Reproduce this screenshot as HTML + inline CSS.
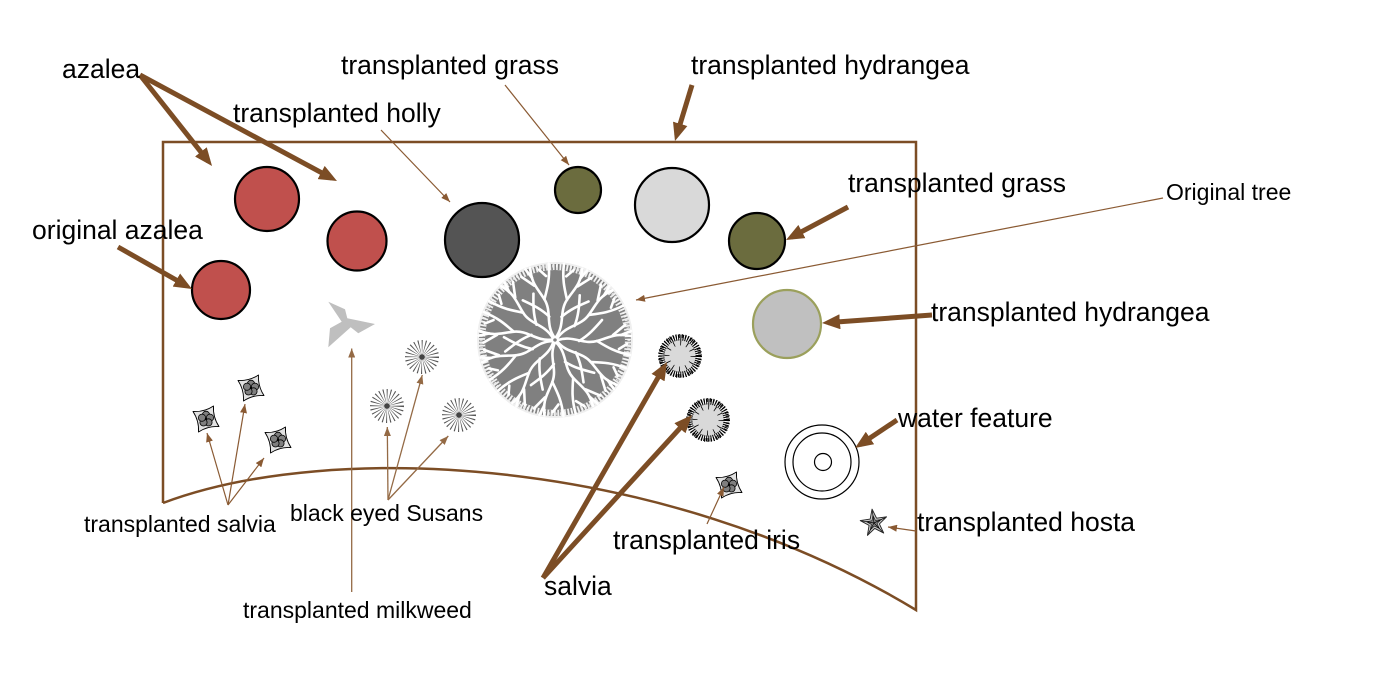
<!DOCTYPE html>
<html>
<head>
<meta charset="utf-8">
<style>
html,body{margin:0;padding:0;background:#fff;width:1396px;height:695px;overflow:hidden;}
svg{display:block;}
text{font-family:"Liberation Sans",Arial,sans-serif;fill:#000;}
</style>
</head>
<body>
<svg width="1396" height="695" viewBox="0 0 1396 695" xmlns="http://www.w3.org/2000/svg">
<defs>
  <marker id="ht" viewBox="0 0 18 15" refX="12" refY="7.5" markerWidth="18" markerHeight="15" markerUnits="userSpaceOnUse" orient="auto">
    <path d="M0,0 L18,7.5 L0,15 Z" fill="#7c4d25"/>
  </marker>
  <marker id="hs" viewBox="0 0 9 7" refX="9" refY="3.5" markerWidth="9" markerHeight="7" markerUnits="userSpaceOnUse" orient="auto">
    <path d="M0,0 L9,3.5 L0,7 Z" fill="#8a5a33"/>
  </marker>
  <marker id="hm" viewBox="0 0 9 7" refX="9" refY="3.5" markerWidth="9" markerHeight="7" markerUnits="userSpaceOnUse" orient="auto">
    <path d="M0,0 L9,3.5 L0,7 Z" fill="#946a45"/>
  </marker>
  <g id="br" fill="none" stroke="#fff" stroke-width="2.6" stroke-linecap="round">
    <path d="M3,0 C18,-5 28,5 42,1 S60,-7 76,-4"/>
    <path d="M42,1 C52,7 60,12 75,15"/>
    <path d="M58,-5 L70,-15"/>
    <path d="M24,1 C34,-5 40,-12 47,-20"/>
    <path d="M66,-5 L76,-9"/>
    <path d="M64,9 L72,4"/>
  </g>
  <g id="flower">
    <path d="M7.5,-13 Q6.8,-1.8 13,7.5 Q1.8,6.8 -7.5,13 Q-6.8,1.8 -13,-7.5 Q-1.8,-6.8 7.5,-13 Z" fill="#e2e2e2" stroke="#000" stroke-width="0.9" stroke-linejoin="round"/>
    <g fill="#7f7f7f" stroke="#000" stroke-width="0.8">
      <circle cx="0" cy="-4.2" r="3.6"/>
      <circle cx="4" cy="-1.3" r="3.6"/>
      <circle cx="2.5" cy="3.4" r="3.6"/>
      <circle cx="-2.5" cy="3.4" r="3.6"/>
      <circle cx="-4" cy="-1.3" r="3.6"/>
    </g>
    <circle r="1.2" fill="#000"/>
  </g>
  <g id="bes">
    <circle r="8.5" fill="none" stroke="#555" stroke-width="17" stroke-dasharray="0.6 1.6"/>
    <circle r="2.8" fill="#444"/>
  </g>
  <g id="shrub">
    <circle r="17" fill="#d9d9d9"/>
    <circle r="18.5" fill="none" stroke="#000" stroke-width="6" stroke-dasharray="1.1 1.2"/>
    <circle r="20" fill="none" stroke="#000" stroke-width="4" stroke-dasharray="0.9 2.2"/>
    <circle r="13" fill="none" stroke="#000" stroke-width="5" stroke-dasharray="0.8 6"/>
  </g>
</defs>

<rect width="1396" height="695" fill="#fff"/>

<!-- garden bed outline -->
<path d="M163,503 L163,142 L916,142 L916,610 C660,455 330,440 163,503" fill="none" stroke="#7c4d25" stroke-width="2.5"/>

<!-- original tree -->
<g transform="translate(555,340)">
  <circle r="78" fill="#efefef"/>
  <circle r="70" fill="#808080"/>
  <circle r="73" fill="none" stroke="#808080" stroke-width="6" stroke-dasharray="1.6 1.8"/>
  <circle r="74" fill="none" stroke="#fafafa" stroke-width="3" stroke-dasharray="0.8 3"/>
  <use href="#br" transform="rotate(0)"/>
  <use href="#br" transform="rotate(33) scale(1,-1)"/>
  <use href="#br" transform="rotate(63)"/>
  <use href="#br" transform="rotate(95) scale(1,-1)"/>
  <use href="#br" transform="rotate(127)"/>
  <use href="#br" transform="rotate(160) scale(1,-1)"/>
  <use href="#br" transform="rotate(190)"/>
  <use href="#br" transform="rotate(222) scale(1,-1)"/>
  <use href="#br" transform="rotate(254)"/>
  <use href="#br" transform="rotate(288) scale(1,-1)"/>
  <use href="#br" transform="rotate(322)"/>
</g>

<!-- shrubs -->
<g stroke="#000" stroke-width="2.2">
  <circle cx="267" cy="199" r="32" fill="#c0504d"/>
  <circle cx="357" cy="241" r="29.5" fill="#c0504d"/>
  <circle cx="221" cy="290" r="29" fill="#c0504d"/>
  <circle cx="482" cy="240" r="37" fill="#545454"/>
  <circle cx="578" cy="190" r="23" fill="#6b6c3e"/>
  <circle cx="672" cy="205" r="37" fill="#d9d9d9"/>
  <circle cx="757" cy="241" r="28" fill="#6b6c3e"/>
</g>
<circle cx="787" cy="324" r="34" fill="#c0c0c0" stroke="#9ba05c" stroke-width="2.2"/>

<!-- milkweed -->
<polygon points="328.3,301.7 345,309.3 347.3,318.3 375,324 358.3,333.3 350.7,327.3 328.3,347.3 330,328.3 341.7,321.7 336,313.3" fill="#bfbfbf"/>

<!-- black eyed susans -->
<use href="#bes" transform="translate(422,357)"/>
<use href="#bes" transform="translate(387,406)"/>
<use href="#bes" transform="translate(459,415)"/>

<!-- transplanted salvia flowers -->
<use href="#flower" transform="translate(206,419)"/>
<use href="#flower" transform="translate(251,388)"/>
<use href="#flower" transform="translate(278,440)"/>
<!-- iris -->
<use href="#flower" transform="translate(729,485)"/>

<!-- salvia shrubs -->
<use href="#shrub" transform="translate(680,356)"/>
<use href="#shrub" transform="translate(708,420)"/>

<!-- water feature -->
<g fill="none" stroke="#000" stroke-width="1.2">
  <circle cx="822" cy="462" r="37"/>
  <circle cx="822" cy="462" r="29"/>
  <circle cx="823" cy="462" r="8.5"/>
</g>

<!-- hosta -->
<g transform="translate(874,523) rotate(-8)">
  <path d="M0,-14 L3.23,-4.45 L13.31,-4.33 L5.23,1.7 L8.23,11.33 L0,5.5 L-8.23,11.33 L-5.23,1.7 L-13.31,-4.33 L-3.23,-4.45 Z" fill="#c8c8c8" stroke="#222" stroke-width="0.9" stroke-linejoin="round"/>
  <path d="M0,-14 L3.23,-4.45 L13.31,-4.33 L5.23,1.7 L8.23,11.33 L0,5.5 L-8.23,11.33 L-5.23,1.7 L-13.31,-4.33 L-3.23,-4.45 Z" transform="scale(0.55)" fill="#8a8a8a" stroke="#000" stroke-width="1"/>
  <g stroke="#000" stroke-width="0.7">
    <line x1="0" y1="0" x2="0" y2="-12"/>
    <line x1="0" y1="0" x2="11.4" y2="-3.7"/>
    <line x1="0" y1="0" x2="7" y2="9.7"/>
    <line x1="0" y1="0" x2="-7" y2="9.7"/>
    <line x1="0" y1="0" x2="-11.4" y2="-3.7"/>
  </g>
</g>

<!-- thick arrows -->
<g stroke="#7c4d25" stroke-width="5" fill="none" marker-end="url(#ht)">
  <line x1="140" y1="75" x2="208.3" y2="161.3"/>
  <line x1="140" y1="75" x2="331.7" y2="178.2"/>
  <line x1="118" y1="247" x2="186.8" y2="286"/>
  <line x1="692" y1="85" x2="676.7" y2="135.3"/>
  <line x1="848" y1="207" x2="791.3" y2="237.2"/>
  <line x1="932" y1="315" x2="828" y2="322.6"/>
  <line x1="897" y1="420" x2="860" y2="444.7"/>
  <line x1="543" y1="578" x2="664" y2="367.2"/>
  <line x1="543" y1="578" x2="688" y2="419.4"/>
</g>

<!-- thin arrows -->
<g stroke="#8a5a33" stroke-width="1.2" fill="none" marker-end="url(#hs)">
  <line x1="505" y1="85" x2="569" y2="165"/>
  <line x1="381" y1="130" x2="450" y2="202"/>
  <line x1="1163" y1="198" x2="636" y2="300"/>
  <line x1="228" y1="505" x2="207" y2="433"/>
  <line x1="228" y1="505" x2="245" y2="404"/>
  <line x1="228" y1="505" x2="264" y2="458"/>
  <line x1="707" y1="524" x2="724" y2="487"/>
  <line x1="916" y1="531" x2="888" y2="527"/>
</g>
<g stroke="#946a45" stroke-width="1.3" fill="none" marker-end="url(#hm)">
  <line x1="351.7" y1="592" x2="351.7" y2="348.5"/>
  <line x1="388" y1="500" x2="387.3" y2="427"/>
  <line x1="388" y1="500" x2="422.3" y2="375"/>
  <line x1="388" y1="500" x2="448.3" y2="436"/>
</g>

<!-- labels -->
<g font-size="26.5">
  <text x="62" y="78">azalea</text>
  <text x="341" y="74">transplanted grass</text>
  <text x="691" y="74">transplanted hydrangea</text>
  <text x="233" y="122">transplanted holly</text>
  <text x="32" y="239">original azalea</text>
  <text x="848" y="192">transplanted grass</text>
  <text x="931" y="321">transplanted hydrangea</text>
  <text x="898" y="427">water feature</text>
  <text x="917" y="531">transplanted hosta</text>
  <text x="613" y="549">transplanted iris</text>
  <text x="544" y="595">salvia</text>
</g>
<g font-size="23">
  <text x="1166" y="200">Original tree</text>
  <text x="84" y="532">transplanted salvia</text>
  <text x="290" y="521">black eyed Susans</text>
  <text x="243" y="618">transplanted milkweed</text>
</g>
</svg>
</body>
</html>
